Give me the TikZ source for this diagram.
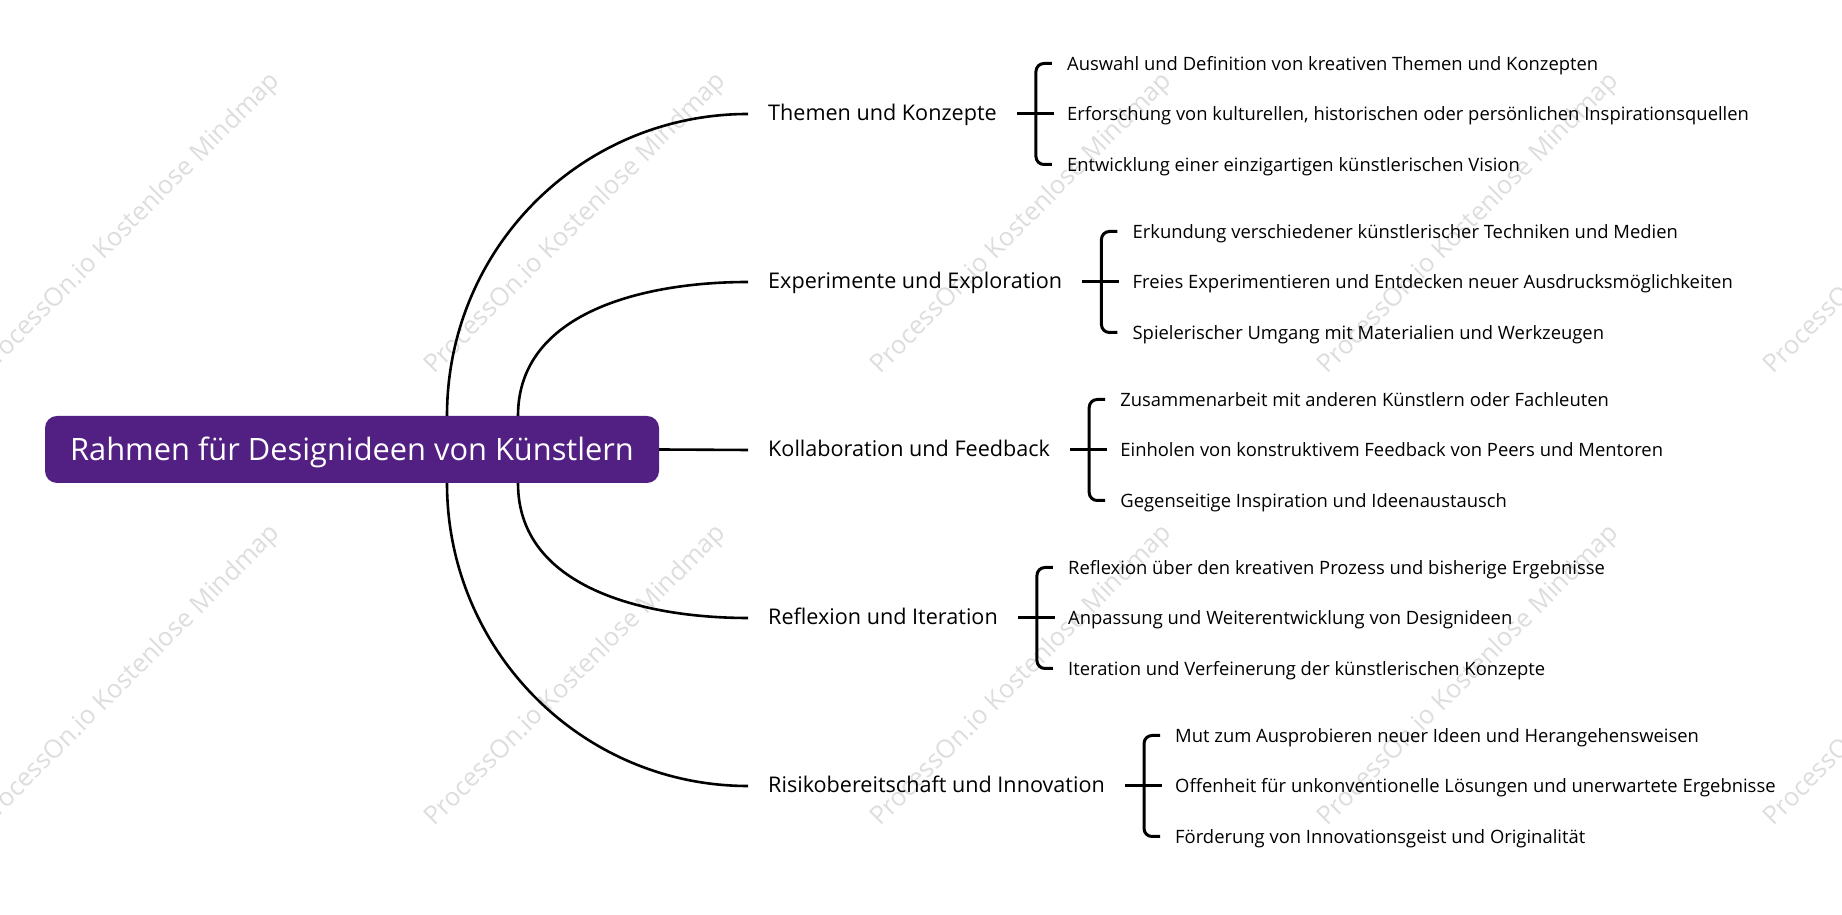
\documentclass[tikz,border=0pt]{standalone}
\usepackage{fontspec}
\setmainfont{Open Sans}
\usetikzlibrary{positioning}
\definecolor{plum}{HTML}{521F82}
\definecolor{wmgray}{HTML}{DDDDDD}

\begin{document}
\begin{tikzpicture}[x=1pt, y=1pt, node distance=19pt, root/.style={rounded corners=12pt,fill=plum,text=white,minimum width=614pt,minimum height=67pt,text height=23pt,text depth=0pt,font=\fontsize{30.8}{36}\selectfont}, topic/.style={anchor=west,inner xsep=20pt,inner ysep=0pt,text height=13.6pt,text depth=0pt,font=\fontsize{21.6}{26}\selectfont}, leaf/.style={anchor=west,inner sep=0pt,text height=14pt,text depth=0pt,font=\fontsize{18.4}{22}\selectfont}, link/.style={line width=2.6pt}, brace/.style={line width=3pt,rounded corners=8pt}, wmark/.style={rotate=45,text=wmgray,font=\fontsize{25.5}{30}\selectfont}]
\useasboundingbox (0,0) rectangle (1842,915);
% watermark
\begin{scope}
\clip (0,0) rectangle (1842,915);
\foreach \x in {130,576,1022,1469,1915}
  \foreach \y in {691,239}
    \node[wmark] (wm-\x-\y) at (\x,\y) {ProcessOn.io Kostenlose Mindmap};
\end{scope}
\node[root] (root) at (352,465.5) {Rahmen für Designideen von Künstlern};
\node[topic] (themen) at (748,801) {Themen und Konzepte};
\node[topic] (experimente) at (748,633) {Experimente und Exploration};
\node[topic] (kollab) at (748,465) {Kollaboration und Feedback};
\node[topic] (reflexion) at (748,297) {Reflexion und Iteration};
\node[topic] (risiko) at (748,129) {Risikobereitschaft und Innovation};
\draw[link] ([xshift=95pt]root.north) to[out=90,in=180] (themen.west);
\draw[link] ([xshift=166pt]root.north) to[out=90,in=180] (experimente.west);
\draw[link] (root.east) -- (kollab.west);
\draw[link] ([xshift=166pt]root.south) to[out=-90,in=180] (reflexion.west);
\draw[link] ([xshift=95pt]root.south) to[out=-90,in=180] (risiko.west);
% Themen
\coordinate[right=of themen] (themenk);
\node[leaf,right=31pt of themenk,yshift=50.5pt] (themen1) {Auswahl und Definition von kreativen Themen und Konzepten};
\node[leaf,right=31pt of themenk] (themen2) {Erforschung von kulturellen, historischen oder persönlichen Inspirationsquellen};
\node[leaf,right=31pt of themenk,yshift=-50.5pt] (themen3) {Entwicklung einer einzigartigen künstlerischen Vision};
\draw[brace] (themen.east) -- ([xshift=18pt]themenk);
\draw[brace] ([xshift=-15pt]themen1.west) -| (themenk) |- ([xshift=-15pt]themen3.west);
% Experimente
\coordinate[right=of experimente] (experimentek);
\node[leaf,right=31pt of experimentek,yshift=50.5pt] (experimente1) {Erkundung verschiedener künstlerischer Techniken und Medien};
\node[leaf,right=31pt of experimentek] (experimente2) {Freies Experimentieren und Entdecken neuer Ausdrucksmöglichkeiten};
\node[leaf,right=31pt of experimentek,yshift=-50.5pt] (experimente3) {Spielerischer Umgang mit Materialien und Werkzeugen};
\draw[brace] (experimente.east) -- ([xshift=18pt]experimentek);
\draw[brace] ([xshift=-15pt]experimente1.west) -| (experimentek) |- ([xshift=-15pt]experimente3.west);
% Kollaboration
\coordinate[right=of kollab] (kollabk);
\node[leaf,right=31pt of kollabk,yshift=50.5pt] (kollab1) {Zusammenarbeit mit anderen Künstlern oder Fachleuten};
\node[leaf,right=31pt of kollabk] (kollab2) {Einholen von konstruktivem Feedback von Peers und Mentoren};
\node[leaf,right=31pt of kollabk,yshift=-50.5pt] (kollab3) {Gegenseitige Inspiration und Ideenaustausch};
\draw[brace] (kollab.east) -- ([xshift=18pt]kollabk);
\draw[brace] ([xshift=-15pt]kollab1.west) -| (kollabk) |- ([xshift=-15pt]kollab3.west);
% Reflexion
\coordinate[right=of reflexion] (reflexionk);
\node[leaf,right=31pt of reflexionk,yshift=50.5pt] (reflexion1) {Reflexion über den kreativen Prozess und bisherige Ergebnisse};
\node[leaf,right=31pt of reflexionk] (reflexion2) {Anpassung und Weiterentwicklung von Designideen};
\node[leaf,right=31pt of reflexionk,yshift=-50.5pt] (reflexion3) {Iteration und Verfeinerung der künstlerischen Konzepte};
\draw[brace] (reflexion.east) -- ([xshift=18pt]reflexionk);
\draw[brace] ([xshift=-15pt]reflexion1.west) -| (reflexionk) |- ([xshift=-15pt]reflexion3.west);
% Risiko
\coordinate[right=of risiko] (risikok);
\node[leaf,right=31pt of risikok,yshift=50.5pt] (risiko1) {Mut zum Ausprobieren neuer Ideen und Herangehensweisen};
\node[leaf,right=31pt of risikok] (risiko2) {Offenheit für unkonventionelle Lösungen und unerwartete Ergebnisse};
\node[leaf,right=31pt of risikok,yshift=-50.5pt] (risiko3) {Förderung von Innovationsgeist und Originalität};
\draw[brace] (risiko.east) -- ([xshift=18pt]risikok);
\draw[brace] ([xshift=-15pt]risiko1.west) -| (risikok) |- ([xshift=-15pt]risiko3.west);
\end{tikzpicture}
\end{document}
